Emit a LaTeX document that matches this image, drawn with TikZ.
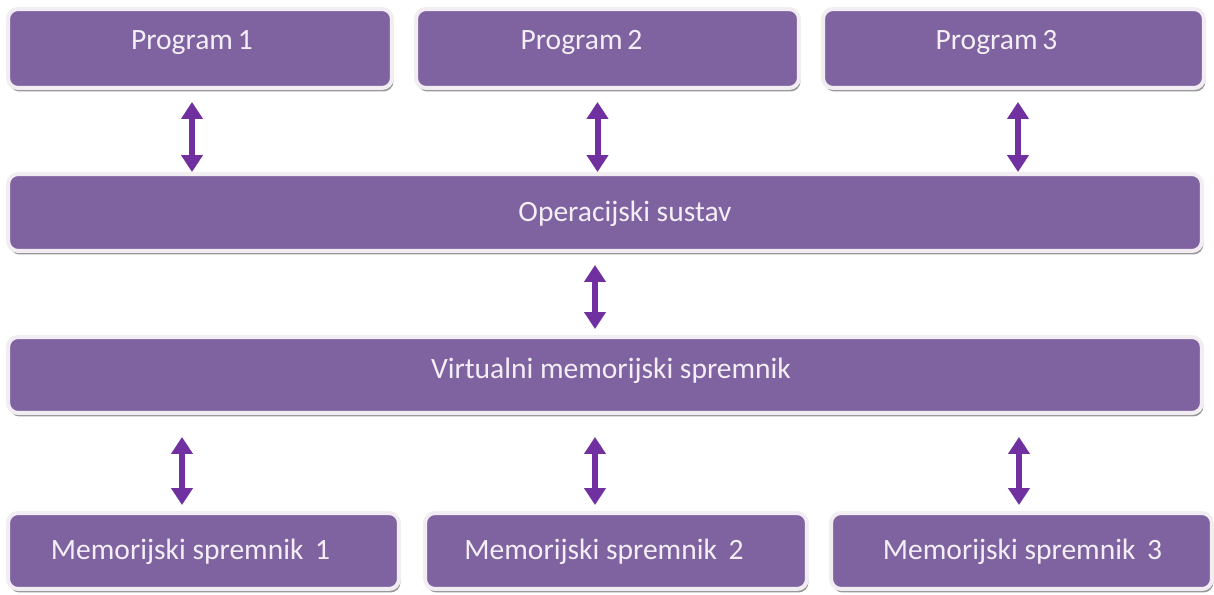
\documentclass[tikz,border=0pt]{standalone}
\usepackage{fontspec}
\setmainfont{Carlito}
\usepackage{tikz}
\usetikzlibrary{arrows.meta,shadows}

\definecolor{boxfill}{HTML}{7F63A0}
\definecolor{boxrim}{HTML}{F1EDF3}
\definecolor{boxtext}{HTML}{F4EEF6}
\definecolor{arrowcol}{HTML}{7030A0}

\tikzset{
  box/.style={rectangle, rounded corners=0.2cm, fill=boxfill, draw=boxrim,
    line width=0.08cm, minimum height=1.58cm, inner sep=0pt,
    drop shadow={shadow xshift=0.03cm, shadow yshift=-0.07cm, fill=black!40, opacity=1}},
  lbl/.style={text=boxtext, font=\fontsize{16.8}{20}\selectfont, inner sep=0pt},
  link/.style={line width=0.12cm, color=arrowcol,
    {Triangle[width=0.42cm,length=0.34cm]}-{Triangle[width=0.42cm,length=0.34cm]}}
}

\begin{document}
\begin{tikzpicture}[x=0.02cm,y=-0.02cm]
			\useasboundingbox (0,0) rectangle (1214,595);

			% Nodes
			\node[box, minimum width=7.68cm, label={[lbl,xshift=-0.16cm,yshift=0.12cm]center:Program\,1}] (p1) at (200,48.5) {};
			\node[box, minimum width=7.66cm, label={[lbl,xshift=-0.52cm,yshift=0.12cm]center:Program\,2}] (p2) at (607.5,48.5) {};
			\node[box, minimum width=7.62cm, label={[lbl,xshift=-0.34cm,yshift=0.12cm]center:Program\,3}] (p3) at (1013.5,48.5) {};
			\node[box, minimum width=23.88cm, minimum height=1.54cm, label={[lbl,xshift=0.4cm,yshift=-0.02cm]center:Operacijski sustav}] (os) at (605,212.5) {};
			\node[box, minimum width=23.88cm, minimum height=1.52cm, label={[lbl,xshift=0.12cm,yshift=0.08cm]center:Virtualni memorijski spremnik}] (vm) at (605,375) {};
			\node[box, minimum width=7.82cm, minimum height=1.52cm, label={[lbl,xshift=-0.26cm,yshift=-0.02cm]center:Memorijski spremnik\ \,1}] (m1) at (203.5,551) {};
			\node[box, minimum width=7.64cm, minimum height=1.52cm, label={[lbl,xshift=-0.24cm,yshift=-0.02cm]center:Memorijski spremnik\ \,2}] (m2) at (616,551) {};
			\node[box, minimum width=7.62cm, minimum height=1.52cm, label={[lbl,xshift=0.02cm,yshift=-0.02cm]center:Memorijski spremnik\ \,3}] (m3) at (1021.5,551) {};

			% Programs <-> operating system
			\draw[link] ([xshift=-0.16cm]p1.south) ++(0,12) -- ([xshift=-0.16cm]p1.south |- os.north);
			\draw[link] ([xshift=-0.2cm]p2.south) ++(0,12) -- ([xshift=-0.2cm]p2.south |- os.north);
			\draw[link] ([xshift=0.09cm]p3.south) ++(0,12) -- ([xshift=0.09cm]p3.south |- os.north);

			% Operating system <-> virtual memory
			\draw[link] ([xshift=-0.2cm]os.south) ++(0,12) -- ([xshift=-0.2cm,yshift=0.12cm]vm.north);

			% Virtual memory <-> memory units
			\draw[link] ([xshift=-0.43cm]m1.north |- vm.south) ++(0,22) -- ([xshift=-0.43cm,yshift=0.12cm]m1.north);
			\draw[link] ([xshift=-0.42cm]m2.north |- vm.south) ++(0,22) -- ([xshift=-0.42cm,yshift=0.12cm]m2.north);
			\draw[link] ([xshift=-0.05cm]m3.north |- vm.south) ++(0,22) -- ([xshift=-0.05cm,yshift=0.12cm]m3.north);

		\end{tikzpicture}
\end{document}
